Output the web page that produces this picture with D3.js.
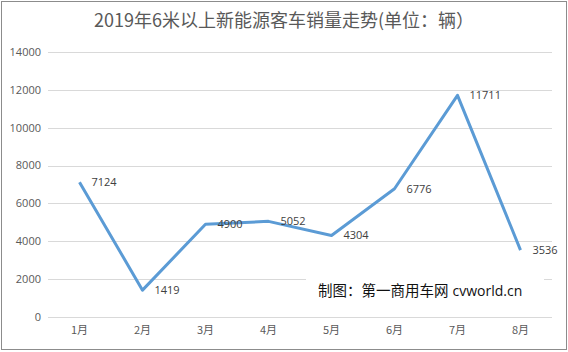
<!DOCTYPE html>
<html>
<head>
<meta charset="utf-8">
<script src="https://cdn.jsdelivr.net/npm/d3@7"></script>
<style>
  body { margin: 0; background: #fff; }
  svg { display: block; font-family: "Noto Sans CJK SC", "Microsoft YaHei", sans-serif; }
</style>
</head>
<body>
<div id="chart"></div>
<script>
// 数据
const months = ["1月", "2月", "3月", "4月", "5月", "6月", "7月", "8月"];
const sales = [7124, 1419, 4900, 5052, 4304, 6776, 11711, 3536];
const yTicks = [0, 2000, 4000, 6000, 8000, 10000, 12000, 14000];
const title = "2019年6米以上新能源客车销量走势(单位：辆）";
const credit = "制图：第一商用车网";

const W = 568, H = 352;
const plot = { left: 48, right: 552, top: 52, bottom: 317 };

const svg = d3.select("#chart").append("svg")
    .attr("width", W)
    .attr("height", H);

svg.append("rect")
    .attr("x", 1.5).attr("y", 1.5)
    .attr("width", 565).attr("height", 348)
    .attr("fill", "#fff")
    .attr("stroke", "#8c8c8c");

const x = d3.scaleBand().domain(months).range([plot.left, plot.right]);
const y = d3.scaleLinear().domain([0, 14000]).range([plot.bottom, plot.top]);

// 网格线
svg.append("g")
    .selectAll("line")
    .data(yTicks)
    .enter().append("line")
    .attr("x1", plot.left).attr("x2", plot.right)
    .attr("y1", d => Math.round(y(d)) + 0.5)
    .attr("y2", d => Math.round(y(d)) + 0.5)
    .attr("stroke", "#d9d9d9");

// y轴标签
svg.append("g")
    .selectAll("text")
    .data(yTicks)
    .enter().append("text")
    .attr("x", 41)
    .attr("y", d => y(d))
    .attr("dy", "0.35em")
    .attr("text-anchor", "end")
    .attr("fill", "#595959")
    .style("font-size", "11px")
    .style("font-family", "'Open Sans', 'Noto Sans', sans-serif")
    .text(d => d);

// x轴标签
svg.append("g")
    .selectAll("text")
    .data(months)
    .enter().append("text")
    .attr("x", d => x(d) + x.bandwidth() / 2)
    .attr("y", 334)
    .attr("text-anchor", "middle")
    .attr("fill", "#595959")
    .style("font-size", "11px")
    .text(d => d);

// 制图 水印 (白底遮住网格线)
svg.append("rect")
    .attr("x", 306).attr("y", 270)
    .attr("width", 238).attr("height", 34)
    .attr("fill", "#fff");

const cr = svg.append("text")
    .attr("x", 318)
    .attr("y", 296)
    .attr("fill", "#111")
    .style("font-size", "14.5px");
cr.append("tspan").text(credit);
cr.append("tspan")
    .attr("dx", 4)
    .style("font-family", "'Open Sans', 'Noto Sans', sans-serif")
    .style("font-size", "14px")
    .text("cvworld.cn");

// 折线
const line = d3.line()
    .x((d, i) => x(months[i]) + x.bandwidth() / 2)
    .y(d => y(d));

svg.append("path")
    .datum(sales)
    .attr("d", line)
    .attr("fill", "none")
    .attr("stroke", "#5b9bd5")
    .attr("stroke-width", 3)
    .attr("stroke-linejoin", "round");

// 数据标签
svg.append("g")
    .selectAll("text")
    .data(sales)
    .enter().append("text")
    .attr("x", (d, i) => x(months[i]) + x.bandwidth() / 2 + 12)
    .attr("y", d => y(d))
    .attr("dy", "0.35em")
    .attr("fill", "#404040")
    .style("font-size", "11px")
    .style("font-family", "'Open Sans', 'Noto Sans', sans-serif")
    .text(d => d);

// 标题
svg.append("text")
    .attr("x", 284)
    .attr("y", 27)
    .attr("text-anchor", "middle")
    .attr("fill", "#595959")
    .style("font-size", "18px")
    .text(title);
</script>
</body>
</html>
